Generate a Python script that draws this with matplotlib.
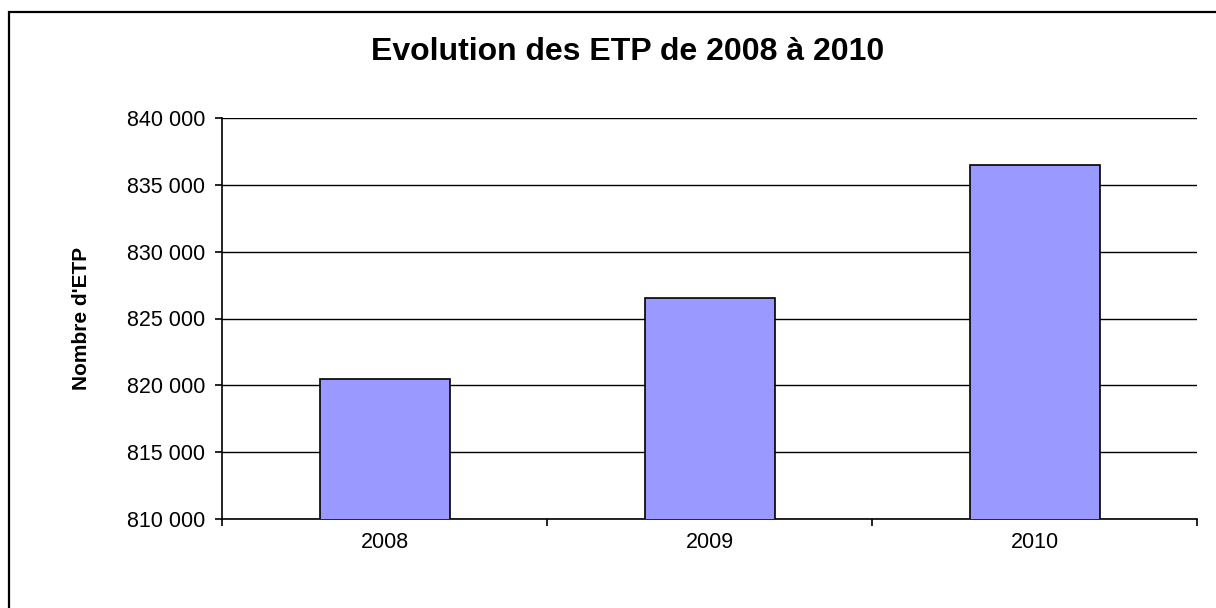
import matplotlib.pyplot as plt
from matplotlib.patches import Rectangle
from matplotlib.ticker import FuncFormatter

annees = ['2008', '2009', '2010']
etp = [820450, 826550, 836500]
yticks = [810000, 815000, 820000, 825000, 830000, 835000, 840000]

plt.rcParams['font.family'] = ['Liberation Sans', 'DejaVu Sans']

fig = plt.figure(figsize=(12.16, 6.08), dpi=100)
W, H = 1216, 608
ax = fig.add_axes([222 / W, 1 - 519 / H, (1197 - 222) / W, (519 - 118) / H])

# cadre du graphique (coupe a droite et en bas)
fig.patches.append(Rectangle((9 / W, -0.1), 1.2, 1 - 12 / H + 0.1,
                             transform=fig.transFigure, fill=False,
                             edgecolor='black', linewidth=1.6))

x = range(len(annees))
ax.bar(x, etp, width=0.4, color='#9999FF', edgecolor='black', linewidth=1.2, zorder=3)

ax.set_xlim(-0.5, 2.5)
ax.set_ylim(810000, 840000)
ax.set_yticks(yticks)
ax.yaxis.set_major_formatter(FuncFormatter(lambda v, p: f'{int(v):,}'.replace(',', ' ')))
ax.grid(axis='y', color='black', linewidth=1.0, zorder=0)

ax.set_xticks([-0.5, 0.5, 1.5, 2.5])
ax.set_xticklabels([])
ax.set_xticks(list(x), minor=True)
ax.set_xticklabels(annees, minor=True)
ax.tick_params(axis='x', which='major', length=5, width=1.2, direction='out')
ax.tick_params(axis='x', which='minor', length=0, pad=9.5, labelsize=15.5)
ax.tick_params(axis='y', length=5, width=1.2, direction='out', pad=7, labelsize=15.5)

ax.spines['top'].set_visible(False)
ax.spines['right'].set_visible(False)
ax.spines['left'].set_linewidth(1.2)
ax.spines['bottom'].set_linewidth(1.2)

ax.set_ylabel("Nombre d'ETP", fontsize=15, fontweight='bold')
ax.yaxis.set_label_coords((91 - 222) / 975, 0.5)
fig.text(628 / W, 1 - 52 / H, 'Evolution des ETP de 2008 à 2010', ha='center', va='center',
         fontsize=23, fontweight='bold')

plt.savefig('out.png', dpi=100)
